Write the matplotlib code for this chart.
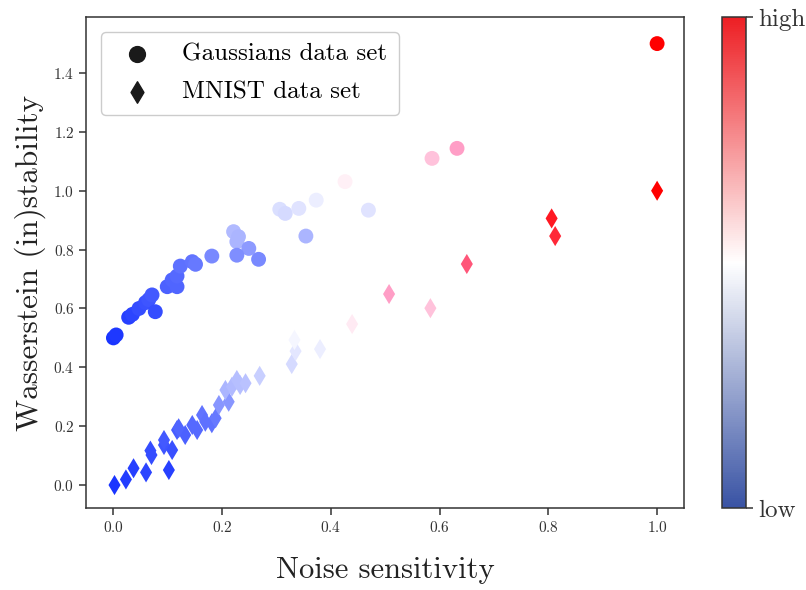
import matplotlib
matplotlib.use("Agg")
import matplotlib.pyplot as plt
import numpy as np
from matplotlib.colors import LinearSegmentedColormap, Normalize
from matplotlib.colorbar import ColorbarBase

plt.rcParams["font.family"] = "serif"
plt.rcParams["font.serif"] = ["cmr10"]
plt.rcParams["mathtext.fontset"] = "cm"
plt.rcParams["axes.formatter.use_mathtext"] = True

# Gaussians data set: noise sensitivity, Wasserstein (in)stability, colour value
gauss_x = [0.0, 0.005, 0.028, 0.035, 0.047, 0.059, 0.065, 0.071, 0.077, 0.099, 0.108, 0.117,
           0.117, 0.123, 0.145, 0.151, 0.181, 0.221, 0.230, 0.227, 0.249, 0.227, 0.267, 0.306,
           0.316, 0.341, 0.354, 0.373, 0.426, 0.469, 0.586, 0.632, 1.0]
gauss_y = [0.50, 0.51, 0.57, 0.58, 0.60, 0.62, 0.63, 0.646, 0.589, 0.674, 0.697, 0.674,
           0.71, 0.744, 0.759, 0.750, 0.778, 0.861, 0.844, 0.827, 0.804, 0.781, 0.767, 0.937,
           0.923, 0.940, 0.846, 0.968, 1.031, 0.934, 1.110, 1.144, 1.50]
gauss_c = [0.0, 0.01, 0.03, 0.04, 0.06, 0.07, 0.08, 0.09, 0.06, 0.11, 0.12, 0.12,
           0.13, 0.15, 0.16, 0.17, 0.21, 0.33, 0.32, 0.32, 0.25, 0.22, 0.21, 0.42,
           0.41, 0.43, 0.32, 0.46, 0.53, 0.43, 0.62, 0.69, 1.0]

# MNIST data set
mnist_x = [0.002, 0.023, 0.037, 0.060, 0.102, 0.068, 0.070, 0.093, 0.108, 0.093, 0.117,
           0.132, 0.120, 0.145, 0.154, 0.163, 0.169, 0.181, 0.188, 0.194, 0.212, 0.206,
           0.218, 0.227, 0.233, 0.243, 0.269, 0.328, 0.335, 0.333, 0.380, 0.439, 0.507,
           0.583, 0.650, 0.806, 0.8125, 1.0]
mnist_y = [0.0, 0.019, 0.057, 0.043, 0.051, 0.117, 0.102, 0.136, 0.119, 0.153, 0.187,
           0.170, 0.193, 0.204, 0.187, 0.238, 0.215, 0.210, 0.227, 0.272, 0.283, 0.323,
           0.334, 0.357, 0.340, 0.346, 0.371, 0.411, 0.455, 0.493, 0.462, 0.547, 0.649,
           0.601, 0.751, 0.906, 0.846, 1.0]
mnist_c = [0.0, 0.02, 0.03, 0.04, 0.03, 0.06, 0.06, 0.08, 0.07, 0.09, 0.10,
           0.11, 0.12, 0.13, 0.13, 0.16, 0.15, 0.15, 0.17, 0.24, 0.24, 0.32,
           0.33, 0.34, 0.34, 0.35, 0.38, 0.41, 0.44, 0.48, 0.46, 0.54, 0.69,
           0.62, 0.83, 0.95, 0.92, 1.0]

point_cmap = LinearSegmentedColormap.from_list(
    "pts", [(0.0, "#1a35ff"), (0.5, "#ffffff"), (0.75, "#ff80b4"), (1.0, "#ff0000")])
bar_cmap = LinearSegmentedColormap.from_list("bar", ["#3953a4", "#ffffff", "#ed1f24"])

fig = plt.figure(figsize=(8.06, 5.9), dpi=100)
fig.patch.set_facecolor("white")
ax = fig.add_axes([0.107, 0.139, 0.742, 0.832])
cax = fig.add_axes([0.896, 0.139, 0.030, 0.832])

ax.scatter(gauss_x, gauss_y, c=gauss_c, cmap=point_cmap, vmin=0, vmax=1, marker="o", s=115,
           linewidths=0)
ax.scatter(mnist_x, mnist_y, c=mnist_c, cmap=point_cmap, vmin=0, vmax=1, marker="d", s=105,
           linewidths=0)

ax.scatter([], [], color="#1a1a1a", marker="o", s=130, label="Gaussians data set")
ax.scatter([], [], color="#1a1a1a", marker="d", s=120, label="MNIST data set")
ax.legend(loc="upper left", fontsize=18, handletextpad=0.8, borderpad=0.45,
          labelspacing=0.6, framealpha=1, edgecolor="#cccccc", borderaxespad=0.6)

ax.set_xlim(-0.05, 1.05)
ax.set_ylim(-0.078, 1.59)
ax.set_xticks(np.arange(0, 1.01, 0.2))
ax.set_yticks(np.arange(0, 1.41, 0.2))
ax.tick_params(direction="out", length=5, width=1.1, labelsize=11, colors="#333333",
               top=False, right=False)
for spine in ax.spines.values():
    spine.set_color("#333333")
    spine.set_linewidth(1.1)
ax.set_xlabel("Noise sensitivity", fontsize=22, labelpad=16, color="#222222")
ax.set_ylabel("Wasserstein (in)stability", fontsize=22.5, labelpad=5, color="#222222")

cb = ColorbarBase(cax, cmap=bar_cmap, norm=Normalize(0, 1))
cb.set_ticks([0, 1])
cb.set_ticklabels(["low", "high"])
cb.ax.tick_params(labelsize=18, length=5, width=1.1, colors="#333333")
cb.outline.set_edgecolor("#333333")
cb.outline.set_linewidth(1.1)

fig.savefig("out.png", dpi=100, facecolor="white")
